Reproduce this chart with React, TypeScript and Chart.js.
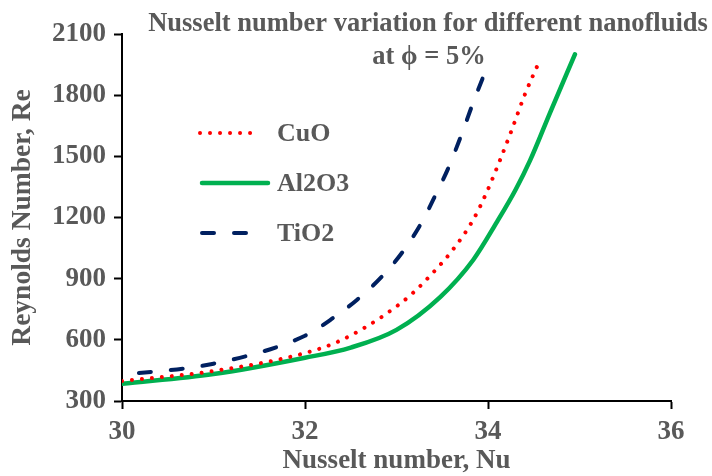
import { useEffect, useRef } from "react";
import { Chart, registerables } from "chart.js";

Chart.register(...registerables);

// Nusselt number (x) against Reynolds number (y) for each nanofluid at 5% volume fraction
const cuoNu = [30, 31, 32, 32.38, 32.84, 33.17, 33.4, 33.6, 33.84, 33.99, 34.13, 34.26, 34.4, 34.57];
const cuoRe = [398, 447, 535, 595, 713, 826, 930, 1033, 1190, 1328, 1480, 1630, 1800, 1975];

const al2o3Nu = [30, 31, 32, 32.5, 33, 33.48, 33.84, 34.1, 34.3, 34.46, 34.68, 34.95];
const al2o3Re = [384, 432, 512, 562, 649, 811, 993, 1180, 1335, 1480, 1716, 2000];

const tio2Nu = [30, 31, 32, 32.31, 32.57, 32.84, 33.07, 33.28, 33.44, 33.56, 33.72, 33.84, 33.99];
const tio2Re = [428, 483, 620, 708, 797, 910, 1033, 1180, 1323, 1436, 1618, 1766, 1938];

const seriesNames = ["CuO", "Al2O3", "TiO2"];
const titleLines = ["Nusselt number variation for different nanofluids", "at \u03D5 = 5%"];
const xAxisTitle = "Nusselt number, Nu";
const yAxisTitle = "Reynolds Number, Re";

const FONT = "'Liberation Serif', 'Times New Roman', serif";
const GREY = "#595959";

const toPoints = (xs: number[], ys: number[]) => xs.map((x, i) => ({ x, y: ys[i] }));

// Draws the two-line heading over the top of the plot
const headingPlugin = {
  id: "heading",
  afterDraw(chart: any) {
    const ctx = chart.ctx;
    ctx.save();
    ctx.fillStyle = GREY;
    ctx.font = `bold 26.5px ${FONT}`;
    ctx.textAlign = "center";
    ctx.textBaseline = "middle";
    ctx.fillText(titleLines[0], 428, 24);
    ctx.fillText(titleLines[1], 429, 57);
    ctx.restore();
  },
};

// Legend placed inside the plot area, using each dataset's own line style
const insideLegendPlugin = {
  id: "insideLegend",
  afterDraw(chart: any) {
    const ctx = chart.ctx;
    const rows = [
      { y: 133, x0: 200, x1: 260 },
      { y: 183, x0: 202, x1: 268 },
      { y: 233, x0: 202, x1: 266 },
    ];
    chart.data.datasets.forEach((ds: any, i: number) => {
      const r = rows[i];
      ctx.save();
      ctx.strokeStyle = ds.borderColor;
      ctx.lineWidth = ds.borderWidth;
      ctx.lineCap = ds.borderCapStyle || "butt";
      ctx.setLineDash(ds.borderDash || []);
      ctx.lineDashOffset = 0;
      ctx.beginPath();
      ctx.moveTo(r.x0, r.y);
      ctx.lineTo(r.x1, r.y);
      ctx.stroke();
      ctx.setLineDash([]);
      ctx.fillStyle = GREY;
      ctx.font = `bold 26px ${FONT}`;
      ctx.textAlign = "left";
      ctx.textBaseline = "middle";
      ctx.fillText(ds.label, 277, r.y + 1);
      ctx.restore();
    });
  },
};

export default function App() {
  const canvasRef = useRef<HTMLCanvasElement | null>(null);

  useEffect(() => {
    document.body.style.margin = "0";
    document.body.style.overflow = "hidden";
    const canvas = canvasRef.current;
    if (!canvas) return;

    const lineCommon = {
      pointRadius: 0,
      cubicInterpolationMode: "monotone",
      fill: false,
      borderCapStyle: "round",
      borderJoinStyle: "round",
    };

    const chart = new Chart(canvas, {
      type: "line",
      data: {
        datasets: [
          {
            ...lineCommon,
            label: seriesNames[0],
            data: toPoints(cuoNu, cuoRe),
            borderColor: "#FF0000",
            borderWidth: 4,
            borderDash: [0.01, 10],
          },
          {
            ...lineCommon,
            label: seriesNames[1],
            data: toPoints(al2o3Nu, al2o3Re),
            borderColor: "#00B050",
            borderWidth: 4.5,
          },
          {
            ...lineCommon,
            label: seriesNames[2],
            data: toPoints(tio2Nu, tio2Re),
            borderColor: "#002060",
            borderWidth: 4,
            borderDash: [12, 20],
            borderDashOffset: 15,
          },
        ],
      },
      options: {
        animation: false,
        responsive: false,
        devicePixelRatio: 1,
        layout: { padding: { left: 0, right: 41, top: 34, bottom: 0 } },
        plugins: {
          legend: { display: false },
          tooltip: { enabled: false },
          title: { display: false },
        },
        scales: {
          x: {
            type: "linear",
            min: 30,
            max: 36,
            ticks: {
              stepSize: 2,
              color: GREY,
              font: { family: FONT, size: 27, weight: "bold" },
              padding: 7,
              maxRotation: 0,
              callback: (v: any) => String(v),
            },
            grid: {
              display: true,
              drawOnChartArea: false,
              drawTicks: true,
              tickLength: 8,
              tickWidth: 2,
              tickColor: "#000000",
            },
            border: { display: true, color: "#000000", width: 2 },
            title: {
              display: true,
              text: xAxisTitle,
              color: GREY,
              font: { family: FONT, size: 27, weight: "bold" },
              padding: { top: 0, bottom: -1 },
            },
            afterFit(scale: any) {
              scale.height = 75;
            },
          },
          y: {
            type: "linear",
            min: 300,
            max: 2100,
            ticks: {
              stepSize: 300,
              color: GREY,
              font: { family: FONT, size: 27, weight: "bold" },
              padding: 8,
              callback: (v: any) => String(v),
            },
            grid: {
              display: true,
              drawOnChartArea: false,
              drawTicks: true,
              tickLength: 8,
              tickWidth: 2,
              tickColor: "#000000",
            },
            border: { display: true, color: "#000000", width: 2 },
            title: {
              display: true,
              text: yAxisTitle,
              color: GREY,
              font: { family: FONT, size: 27.5, weight: "bold" },
              padding: { top: 6, bottom: 0 },
            },
            afterFit(scale: any) {
              scale.width = 122;
            },
          },
        },
      },
      plugins: [headingPlugin, insideLegendPlugin],
    } as any);

    return () => chart.destroy();
  }, []);

  return (
    <div style={{ width: 712, height: 476, background: "#ffffff" }}>
      <canvas ref={canvasRef} width={712} height={476} style={{ display: "block" }} />
    </div>
  );
}
